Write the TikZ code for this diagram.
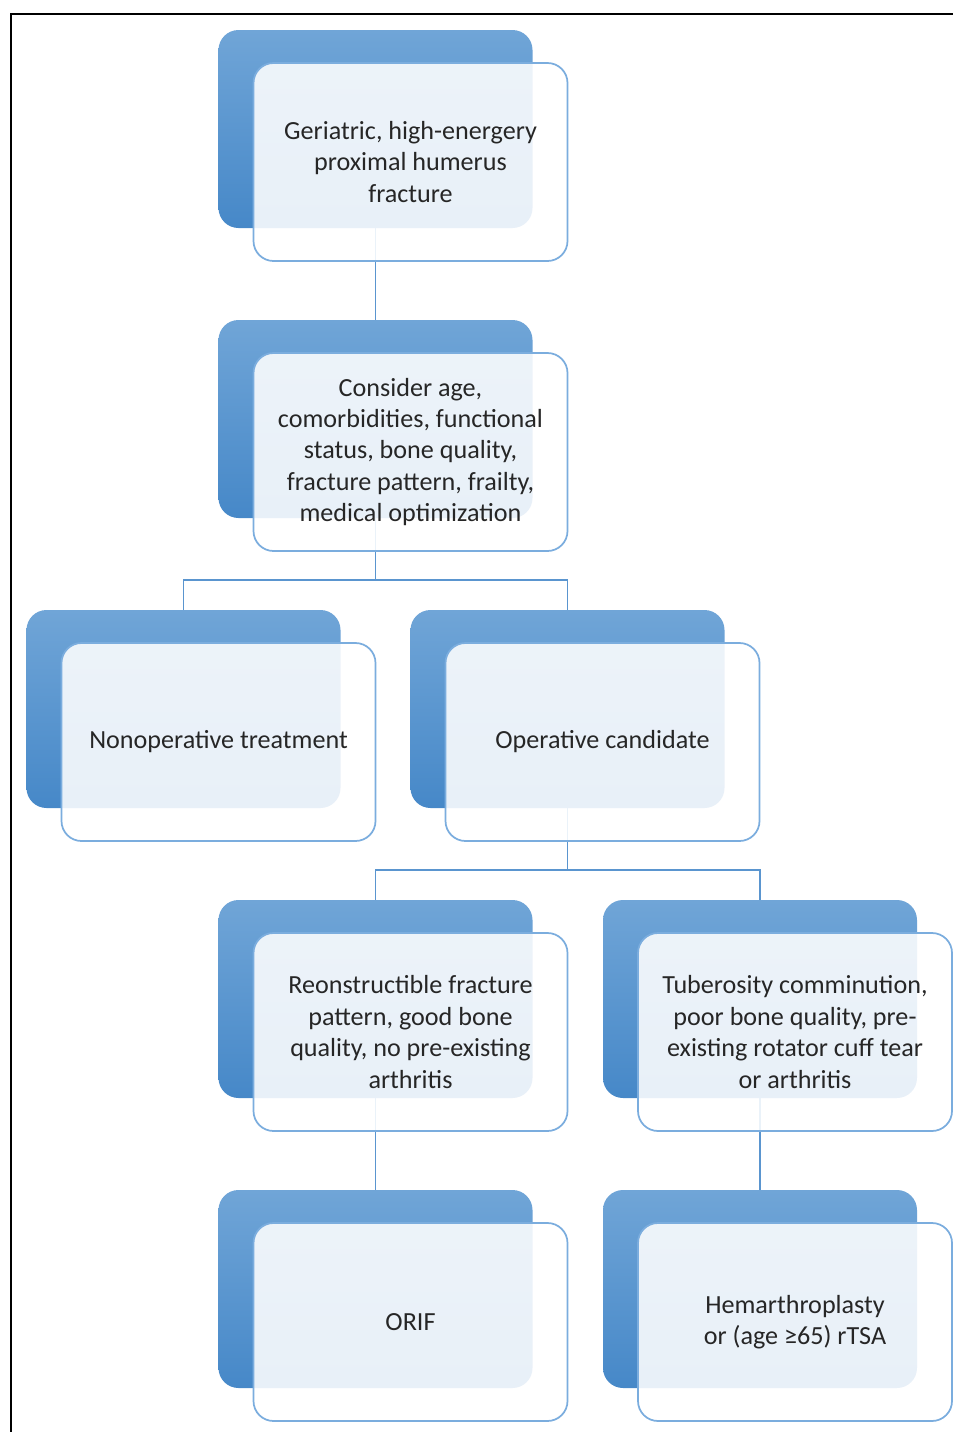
\documentclass[tikz,border=0pt]{standalone}
\usepackage{fontspec}
\setmainfont{Carlito}
\definecolor{backtop}{HTML}{70A5D7}
\definecolor{backbot}{HTML}{4688C8}
\definecolor{frontline}{HTML}{7BADDE}
\definecolor{conn}{HTML}{5A95CF}
\definecolor{txt}{HTML}{262626}
\begin{document}
\begin{tikzpicture}[x=0.75pt,y=-0.75pt,
  backbox/.style={rounded corners=15pt, minimum width=235.5pt, minimum height=148.5pt,
    top color=backtop, bottom color=backbot, draw=none, inner sep=0pt},
  frontbox/.style={rounded corners=15pt, minimum width=235.5pt, minimum height=148.5pt,
    draw=frontline, line width=1.3pt, fill=white, fill opacity=0.88, text opacity=1,
    align=center, text=txt, inner sep=0pt,
    font=\fontsize{19.6pt}{23.6pt}\selectfont},
  link/.style={draw=conn, line width=1.4pt}]
\useasboundingbox (0,0) rectangle (953,1432);
\draw[line width=1.8pt, black] (953,14) -- (11,14) -- (11,1432);
% back boxes
\node[backbox] (b1) at (375.5,129) {};
\node[backbox] (b2) at (375.5,419) {};
\node[backbox] (b3) at (183.5,709) {};
\node[backbox] (b4) at (567.5,709) {};
\node[backbox] (b5) at (375.5,999) {};
\node[backbox] (b6) at (760,999) {};
\node[backbox] (b7) at (375.5,1289) {};
\node[backbox] (b8) at (760,1289) {};
% connectors
\draw[link] (b1.south) -- (b2.north);
\coordinate (j1) at (375.5,580);
\draw[link] (b2.south) -- (j1);
\draw[link] (j1) -| (b3.north);
\draw[link] (j1) -| (b4.north);
\coordinate (j2) at (567.5,870);
\draw[link] (b4.south) -- (j2);
\draw[link] (j2) -| (b5.north);
\draw[link] (j2) -| (b6.north);
\draw[link] (b5.south) -- (b7.north);
\draw[link] (b6.south) -- (b8.north);
% front boxes
\node[frontbox] (f1) at (410.5,162) {Geriatric, high-energery\\proximal humerus\\fracture};
\node[frontbox] (f2) at (410.5,452) {Consider age,\\comorbidities, functional\\status, bone quality,\\fracture pattern, frailty,\\medical optimization};
\node[frontbox] (f3) at (218.5,742) {Nonoperative treatment};
\node[frontbox] (f4) at (602.5,742) {Operative candidate};
\node[frontbox] (f5) at (410.5,1032) {Reonstructible fracture\\pattern, good bone\\quality, no pre-existing\\arthritis};
\node[frontbox] (f6) at (795,1032) {Tuberosity comminution,\\poor bone quality, pre-\\existing rotator cuff tear\\or arthritis};
\node[frontbox] (f7) at (410.5,1322) {ORIF};
\node[frontbox] (f8) at (795,1322) {Hemarthroplasty\\or (age ≥65) rTSA};
\end{tikzpicture}
\end{document}
